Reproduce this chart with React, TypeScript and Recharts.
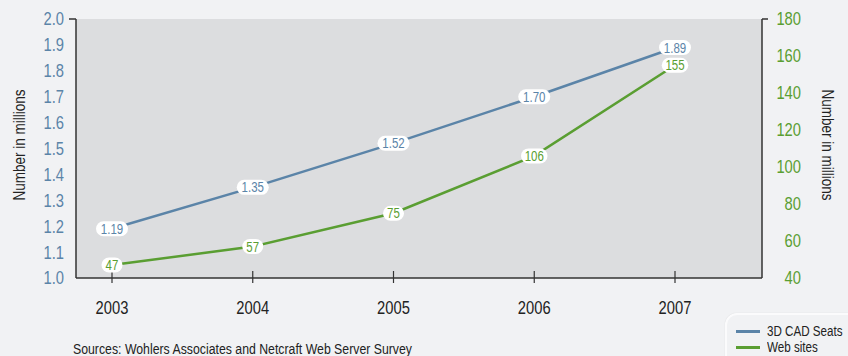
import {
  LineChart,
  Line,
  XAxis,
  YAxis,
  CartesianGrid,
  LabelList,
  Legend,
  Customized,
} from "recharts";

const years = ["2003", "2004", "2005", "2006", "2007"];
const cadSeats = [1.19, 1.35, 1.52, 1.7, 1.89];
const webSites = [47, 57, 75, 106, 155];
const leftTicks = [1.0, 1.1, 1.2, 1.3, 1.4, 1.5, 1.6, 1.7, 1.8, 1.9, 2.0];
const rightTicks = [40, 60, 80, 100, 120, 140, 160, 180];

const BLUE = "#5B84A8";
const GREEN = "#5A9E32";
const FONT = '"Liberation Sans", Arial, sans-serif';
// the original uses a condensed face, so squeeze Liberation Sans sideways
const SQ = 0.82;

const data = years.map((year, i) => ({
  year,
  cad: cadSeats[i],
  web: webSites[i],
}));

// text squeezed horizontally around its anchor point
const NarrowText = (props: any) => {
  const { x, y, rotate = 0, squeeze = SQ, children, ...rest } = props;
  return (
    <text
      transform={`translate(${x},${y}) rotate(${rotate}) scale(${squeeze},1)`}
      fontFamily={FONT}
      {...rest}
    >
      {children}
    </text>
  );
};

const XTick = (props: any) => {
  const { x, y, payload } = props;
  return (
    <g>
      <line x1={x} x2={x} y1={y - 7} y2={y + 5} stroke="#333" strokeWidth={1.2} />
      <NarrowText x={x} y={y + 36} textAnchor="middle" fontSize={18} fill="#222">
        {payload.value}
      </NarrowText>
    </g>
  );
};

const LeftTick = (props: any) => {
  const { x, y, payload } = props;
  return (
    <g>
      {payload.value === 2 && (
        <line x1={x - 7} x2={x} y1={y} y2={y} stroke="#333" strokeWidth={1.5} />
      )}
      <NarrowText x={x - 12} y={y} dy="0.36em" textAnchor="end" fontSize={18} fill={BLUE}>
        {Number(payload.value).toFixed(1)}
      </NarrowText>
    </g>
  );
};

const RightTick = (props: any) => {
  const { x, y, payload } = props;
  return (
    <g>
      {payload.value === 180 && (
        <line x1={x} x2={x + 6} y1={y} y2={y} stroke="#333" strokeWidth={1.5} />
      )}
      <NarrowText x={x + 39} y={y} dy="0.36em" textAnchor="end" fontSize={18} fill={GREEN}>
        {payload.value}
      </NarrowText>
    </g>
  );
};

const pill = (color: string, digits: number) => (props: any) => {
  const { x, y, value } = props;
  const text = digits > 0 ? Number(value).toFixed(digits) : String(value);
  const w = text.length * 5.5 + 10;
  return (
    <g>
      <rect x={x - w / 2} y={y - 7.5} width={w} height={15} rx={7.5} fill="#fff" />
      <NarrowText x={x} y={y} dy="0.36em" textAnchor="middle" fontSize={14} fill={color}>
        {text}
      </NarrowText>
    </g>
  );
};

const Titles = () => (
  <g fill="#222">
    <NarrowText x={19} y={145} rotate={-90} textAnchor="middle" dy="0.35em" fontSize={16.5}>
      Number in millions
    </NarrowText>
    <NarrowText x={828} y={145} rotate={90} textAnchor="middle" dy="0.35em" fontSize={16.5}>
      Number in millions
    </NarrowText>
    <NarrowText x={73} y={354} fontSize={15}>
      Sources: Wohlers Associates and Netcraft Web Server Survey
    </NarrowText>
  </g>
);

const LegendBox = () => (
  <div
    style={{
      width: 140,
      height: 60,
      border: "2px solid #FBFBFC",
      boxShadow: "0 0 1px #C8C9CB",
      borderRadius: 12,
      boxSizing: "border-box",
      padding: "8px 0 0 9px",
      fontFamily: FONT,
      fontSize: 14,
      color: "#222",
      lineHeight: "16px",
    }}
  >
    {[
      { name: "3D CAD Seats", color: BLUE },
      { name: "Web sites", color: GREEN },
    ].map((item) => (
      <div key={item.name} style={{ display: "flex", alignItems: "center", whiteSpace: "nowrap" }}>
        <span style={{ display: "inline-block", width: 24, height: 3, background: item.color, marginRight: 7 }} />
        <span style={{ display: "inline-block", transform: "scaleX(0.83)", transformOrigin: "left center" }}>
          {item.name}
        </span>
      </div>
    ))}
  </div>
);

export default function App() {
  return (
    <div
      style={{
        position: "absolute",
        left: 0,
        top: 0,
        width: 848,
        height: 356,
        background: "#F1F2F4",
        overflow: "hidden",
      }}
    >
      <LineChart width={848} height={356} data={data} margin={{ top: 19, right: 0, bottom: 38, left: 0 }}>
        <CartesianGrid fill="#DCDDDF" stroke="none" horizontal={false} vertical={false} />
        <XAxis
          dataKey="year"
          padding={{ left: 36, right: 87 }}
          height={40}
          tickSize={0}
          tickMargin={0}
          tick={XTick}
          stroke="#333"
          strokeWidth={1.5}
          interval={0}
        />
        <YAxis
          yAxisId="left"
          orientation="left"
          width={76}
          domain={[1, 2]}
          ticks={leftTicks}
          tickSize={0}
          tickMargin={0}
          tick={LeftTick}
          stroke="#333"
          strokeWidth={1.5}
          interval={0}
        />
        <YAxis
          yAxisId="right"
          orientation="right"
          width={86}
          domain={[40, 180]}
          ticks={rightTicks}
          tickSize={0}
          tickMargin={0}
          tick={RightTick}
          stroke="#333"
          strokeWidth={1.5}
          interval={0}
        />
        <Line
          yAxisId="left"
          dataKey="cad"
          stroke={BLUE}
          strokeWidth={2.5}
          dot={false}
          isAnimationActive={false}
        >
          <LabelList dataKey="cad" content={pill(BLUE, 2)} />
        </Line>
        <Line
          yAxisId="right"
          dataKey="web"
          stroke={GREEN}
          strokeWidth={2.5}
          dot={false}
          isAnimationActive={false}
        >
          <LabelList dataKey="web" content={pill(GREEN, 0)} />
        </Line>
        <Customized component={Titles} />
        <Legend
          layout="vertical"
          align="center"
          verticalAlign="middle"
          content={LegendBox}
          wrapperStyle={{ position: "absolute", left: 725, top: 313, width: 140, height: 60 }}
        />
      </LineChart>
    </div>
  );
}
